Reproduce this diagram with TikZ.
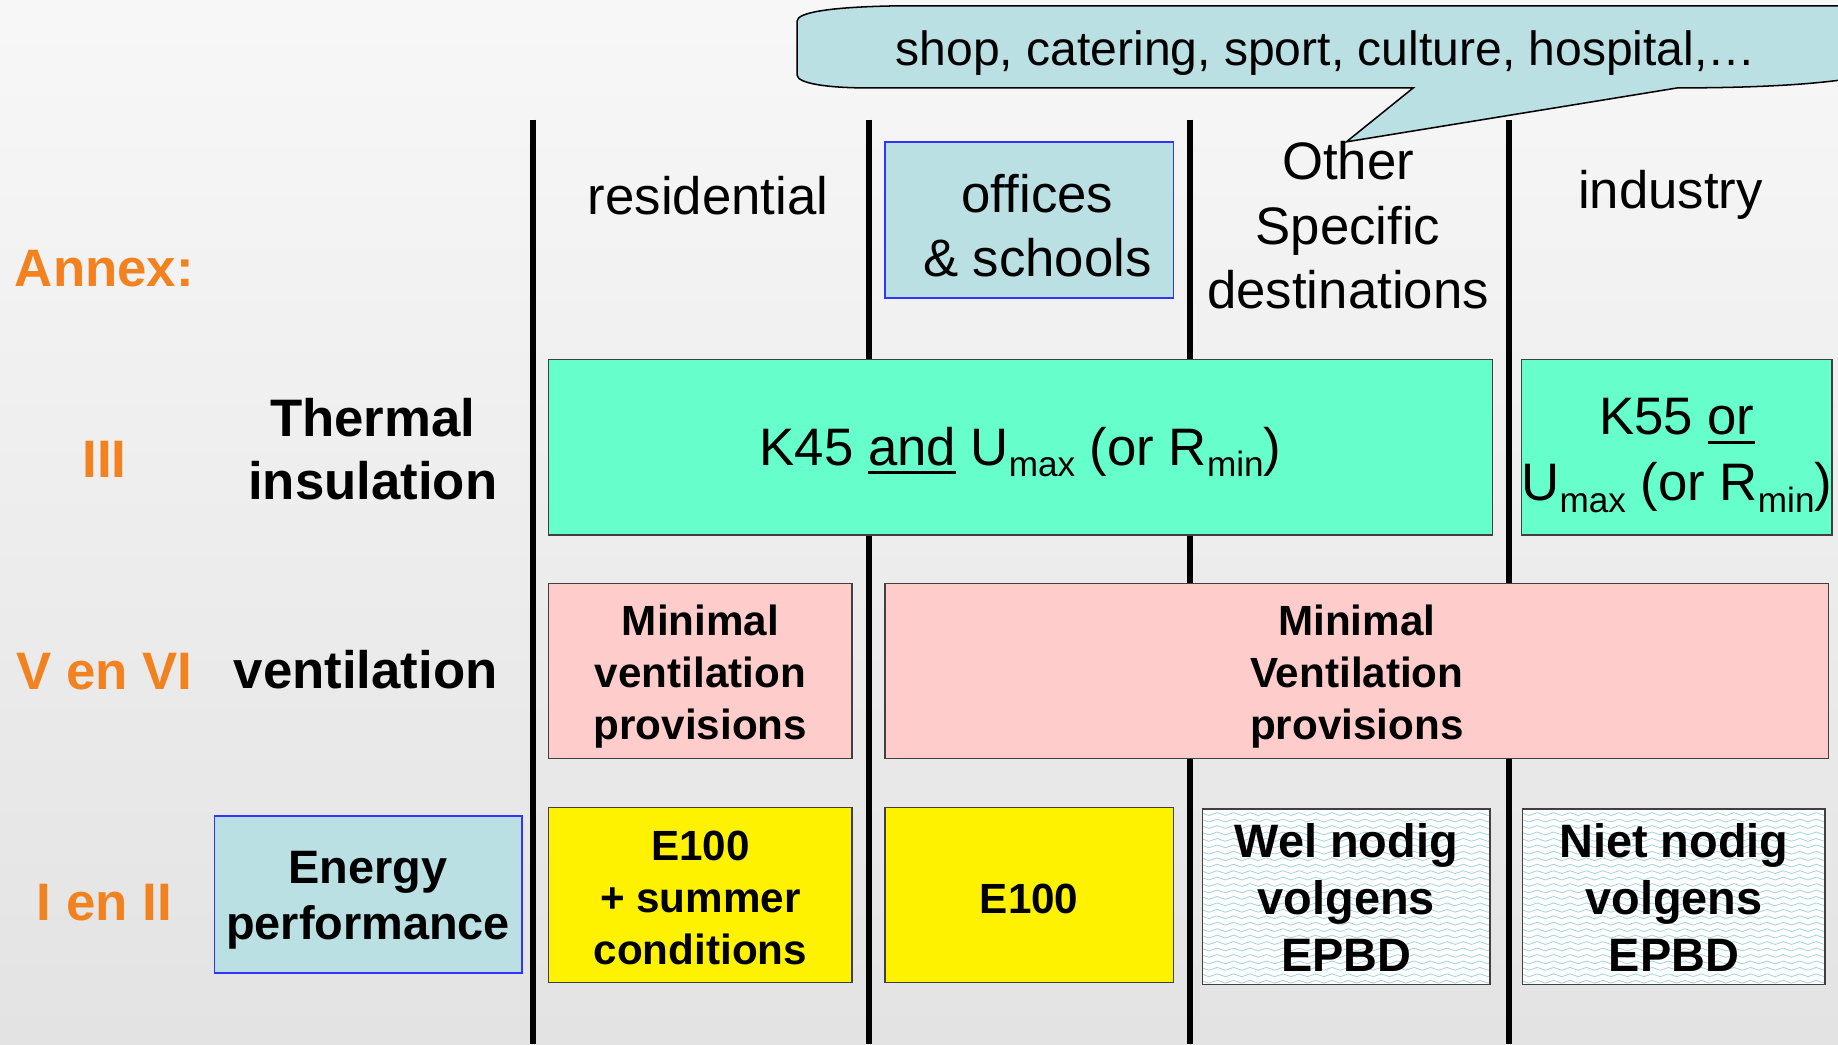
\documentclass[tikz,border=0pt]{standalone}
\usepackage{fontspec}
\setmainfont{Liberation Sans}
\usepackage{tikz}
\usetikzlibrary{decorations.pathmorphing}
\definecolor{annexorange}{RGB}{242,130,32}
\definecolor{mintfill}{RGB}{102,255,204}
\definecolor{rosefill}{RGB}{255,204,204}
\definecolor{paleblue}{RGB}{187,224,227}
\definecolor{boxblue}{RGB}{51,51,255}
\definecolor{wavecol}{RGB}{165,212,222}
\newcommand{\lnstrut}[1][1.117]{\rule[-0.212em]{0pt}{#1em}}
\newcommand{\toppad}[1]{\rule{0pt}{#1em}}
\newcommand{\lowsub}[1]{\raisebox{-0.22em}{\fontsize{30}{30}\selectfont #1}}
\newcommand{\ulword}[1]{\setbox0\hbox{#1}\rlap{\rule[-0.17em]{\wd0}{0.06em}}\box0\relax}
\tikzset{
  lbl/.style={inner sep=0pt, align=center,
    execute at begin node=\lnstrut, execute at end node=\lnstrut},
  hdr/.style={lbl, font=\fontsize{45}{55}\selectfont},
  rowlbl/.style={lbl, font=\fontsize{45}{54}\selectfont\bfseries},
  annexlbl/.style={lbl, text=annexorange, font=\fontsize{45}{54}\selectfont\bfseries},
  bluecell/.style={lbl, fill=paleblue, draw=boxblue, line width=1.5pt},
  cell/.style={lbl, draw=black!75, line width=1.2pt},
  wavecell/.style={cell, fill=white, minimum width=245pt, minimum height=150pt,
    font=\fontsize{40}{48.5}\selectfont\bfseries,
    path picture={
      \foreach \wy in {-78,-72.5,...,78}
        \draw[wavecol, line width=0.7pt, decorate,
              decoration={snake, amplitude=1.2pt, segment length=14pt}]
          ([xshift=-6pt, yshift=\wy pt]path picture bounding box.west) --
          ([xshift=6pt, yshift=\wy pt]path picture bounding box.east);
    }},
  divider/.style={line width=5pt, black}
}

\begin{document}
\begin{tikzpicture}[x=1pt, y=-1pt]
  \useasboundingbox (0,0) rectangle (1568,891);
  \clip (0,0) rectangle (1568,891);
  \shade[top color=black!3, bottom color=black!11] (0,0) rectangle (1568,891);

  % column dividers
  \foreach \cx in {455,741,1015,1287}
    \draw[divider] (\cx,102) -- (\cx,891);

  % callout
  \filldraw[fill=paleblue, draw=black, line width=1.3pt]
    (680,64) -- (680,18) .. controls (680,11) and (705,6) .. (765,5)
    -- (1570,5) .. controls (1605,5) and (1620,10) .. (1620,25)
    -- (1620,50) .. controls (1620,64) and (1560,75) .. (1431,75)
    -- (1148.6,121) -- (1205.6,75) -- (740,75)
    .. controls (705,75) and (680,71) .. (680,64) -- cycle;
  \node (bubtxt) at (1131,42) [lbl, font=\fontsize{41}{49}\selectfont] {shop, catering, sport, culture, hospital,…};

  % column heads
  \node (resid) at (604,167) [hdr] {residential};
  \node (office) at (878,187.5) [hdr, bluecell, minimum width=246pt, minimum height=133pt] {\toppad{1.15}\hspace*{14pt}offices\\\hspace*{14pt}\& schools};
  \node (other) at (1150,197) [hdr] {Other\\Specific\\destinations};
  \node (indus) at (1425,162) [hdr] {industry};

  % row heads
  \node (annex) at (89,229) [annexlbl] {Annex:};
  \node (annIII) at (89,392) [annexlbl] {III};
  \node (annVVI) at (89,573) [annexlbl] {V en VI};
  \node (annIandII) at (89,770) [annexlbl] {I en II};
  \node (therm) at (318,388) [rowlbl] {Thermal\\insulation};
  \node (vent) at (312,572) [rowlbl] {ventilation};
  \node (energy) at (314,763) [bluecell, font=\fontsize{40}{48}\selectfont\bfseries, minimum width=262pt, minimum height=134pt] {\toppad{0.93}Energy\\performance};

  % thermal insulation
  \node (kres) at (870.5,381.5) [cell, fill=mintfill, minimum width=805pt, minimum height=150pt, font=\fontsize{45}{54}\selectfont] {K45 \ulword{and} U\lowsub{max} (or R\lowsub{min})};
  \node (kind) at (1430.5,381.5) [cell, fill=mintfill, minimum width=261pt, minimum height=150pt, font=\fontsize{45}{56}\selectfont] {\toppad{1.0}K55 \ulword{or}\\U\lowsub{max} (or R\lowsub{min})};

  % ventilation
  \node (vres) at (597.5,572.5) [cell, fill=rosefill, minimum width=259pt, minimum height=149pt, font=\fontsize{36}{44.5}\selectfont\bfseries] {\toppad{1.0}Minimal\\ventilation\\provisions};
  \node (voth) at (1157.5,572.5) [cell, fill=rosefill, minimum width=805pt, minimum height=149pt, font=\fontsize{36}{44.5}\selectfont\bfseries] {\toppad{1.0}Minimal\\Ventilation\\provisions};

  % energy performance
  \node (eres) at (597.5,763.5) [cell, fill=yellow, minimum width=259pt, minimum height=149pt, font=\fontsize{36}{44.5}\selectfont\bfseries] {\toppad{1.03}E100\\+ summer\\conditions};
  \node (eoff) at (878,763.5) [cell, fill=yellow, minimum width=246pt, minimum height=149pt, font=\fontsize{36}{44.5}\selectfont\bfseries, execute at begin node={\lnstrut[1.3]}] {E100};
  \node (wel) at (1148.5,765) [wavecell] {\toppad{0.98}Wel nodig\\volgens\\EPBD};
  \node (niet) at (1428,765) [wavecell, minimum width=258pt] {\toppad{0.98}Niet nodig\\volgens\\EPBD};
\end{tikzpicture}
\end{document}
